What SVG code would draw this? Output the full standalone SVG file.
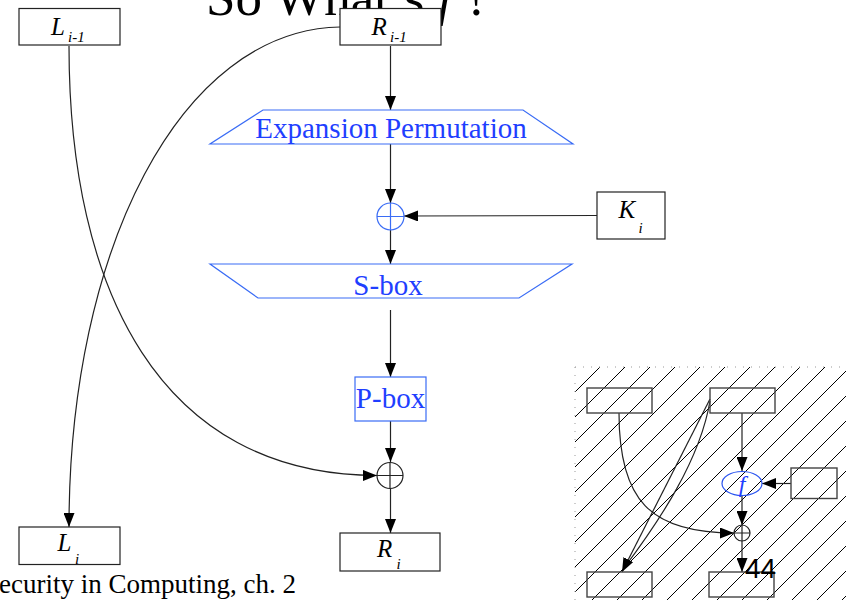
<svg xmlns="http://www.w3.org/2000/svg" width="846" height="600" viewBox="0 0 846 600">
<style>
.box{fill:#fff;stroke:#222;stroke-width:1.2}
.ibox{fill:none;stroke:#444;stroke-width:1.4}
.blue{fill:#fff;stroke:#3a6cf5;stroke-width:1.2}
.con{fill:none;stroke:#222;stroke-width:1.2}
.t{font-family:"Liberation Serif","Times New Roman",serif;fill:#000}
.it{font-family:"Liberation Serif","Times New Roman",serif;font-style:italic;fill:#000}
.bt{font-family:"Liberation Serif","Times New Roman",serif;fill:#1f3fff}
</style>
<defs>
<marker id="ah" markerUnits="userSpaceOnUse" markerWidth="14" markerHeight="11" refX="14" refY="5.5" orient="auto">
<path d="M0,0 L14,5.5 L0,11 z" fill="#000"/>
</marker>
<clipPath id="hc"><rect x="575" y="367" width="271" height="233"/></clipPath>
</defs>

<g id="inset-hatch">
<path clip-path="url(#hc)" fill="none" stroke="#000" stroke-width="1" d="M575,367 L342,600 M600,367 L367,600 M625,367 L392,600 M650,367 L417,600 M675,367 L442,600 M700,367 L467,600 M725,367 L492,600 M750,367 L517,600 M775,367 L542,600 M800,367 L567,600 M825,367 L592,600 M850,367 L617,600 M875,367 L642,600 M900,367 L667,600 M925,367 L692,600 M950,367 L717,600 M975,367 L742,600 M1000,367 L767,600 M1025,367 L792,600 M1050,367 L817,600 M1075,367 L842,600 M1100,367 L867,600"/>
<path fill="none" stroke="#999" stroke-width="1" stroke-dasharray="1,7" d="M575,367 L846,367 M575,367 L575,600"/>
</g>

<g id="title"><text class="t" x="206" y="15" font-size="53">So What’s <tspan font-style="italic">f</tspan> ?</text></g>

<g id="connectors">
<path class="con" d="M390.5,46 L390.5,110" marker-end="url(#ah)"/>
<path class="con" d="M390.5,144 L390.5,203" marker-end="url(#ah)"/>
<path class="con" d="M390.5,230 L390.5,264" marker-end="url(#ah)"/>
<path class="con" d="M390.5,310 L390.5,377" marker-end="url(#ah)"/>
<path class="con" d="M390.5,421 L390.5,462" marker-end="url(#ah)"/>
<path class="con" d="M390.5,489 L390.5,533" marker-end="url(#ah)"/>
<path class="con" d="M597,215.5 L404,216" marker-end="url(#ah)"/>
<path class="con" d="M69,46 C69,290 160,475 377,475.5" marker-end="url(#ah)"/>
<path class="con" d="M340,27 C180,30 69,250 69,527" marker-end="url(#ah)"/>
<path class="con" d="M742,413 L742,471" marker-end="url(#ah)"/>
<path class="con" d="M791,483.5 L762,483.5" marker-end="url(#ah)"/>
<path class="con" d="M742,495.5 L742,525" marker-end="url(#ah)"/>
<path class="con" d="M742,541 L742,572" marker-end="url(#ah)"/>
<path class="con" d="M619,413 C619,500 650,533 734,533" marker-end="url(#ah)"/>
<path class="con" d="M710,401 C700,460 660,520 624,568"/>
<path class="con" d="M710,399 L622,572" marker-end="url(#ah)"/>
</g>

<g id="L_i-1"><rect class="box" x="19" y="8.5" width="101" height="36.5"/><text class="it" x="51" y="34.5" font-size="25">L</text><text class="it" x="68" y="42" font-size="15">i-1</text></g>
<g id="R_i-1"><rect class="box" x="340" y="8.5" width="101" height="36.5"/><text class="it" x="371.5" y="34.5" font-size="25">R</text><text class="it" x="390" y="42" font-size="15">i-1</text></g>
<g id="expansion"><polygon class="blue" points="263,110 523,110 573,144 210,144"/><text class="bt" x="391" y="138" font-size="29" text-anchor="middle">Expansion Permutation</text></g>
<g id="xor1"><circle cx="390.5" cy="216.5" r="13.5" fill="#fff" stroke="#3a6cf5" stroke-width="1.2"/><path d="M377,216.5 H404 M390.5,203 V230" stroke="#3a6cf5" stroke-width="1.2"/></g>
<g id="K_i"><rect class="box" x="597" y="192" width="68" height="47"/><text class="it" x="618.5" y="218" font-size="25">K</text><text class="it" x="638.5" y="233" font-size="15">i</text></g>
<g id="sbox"><polygon class="blue" points="210,264 572,264 519,298 258,298"/><text class="bt" x="388" y="295" font-size="29" text-anchor="middle">S-box</text></g>
<g id="pbox"><rect class="blue" x="355" y="377" width="71" height="44"/><text class="bt" x="390.5" y="408" font-size="29" text-anchor="middle">P-box</text></g>
<g id="xor2"><circle cx="390" cy="475.5" r="13" fill="#fff" stroke="#222" stroke-width="1.2"/><path d="M377,475.5 H403 M390,462.5 V488.5" stroke="#222" stroke-width="1.2"/></g>
<g id="L_i"><rect class="box" x="19" y="527" width="101" height="37.5"/><text class="it" x="57.5" y="551" font-size="25">L</text><text class="it" x="75" y="563.5" font-size="15">i</text></g>
<g id="R_i"><rect class="box" x="340" y="533" width="100" height="38"/><text class="it" x="377" y="557" font-size="25">R</text><text class="it" x="396.5" y="568.5" font-size="15">i</text></g>

<g id="inset-A"><rect class="ibox" x="587" y="388" width="65" height="25"/></g>
<g id="inset-B"><rect class="ibox" x="710" y="388" width="65" height="25"/></g>
<g id="inset-K"><rect class="ibox" x="791" y="468" width="46" height="30.5"/></g>
<g id="inset-f"><ellipse cx="742" cy="483.5" rx="20" ry="12" fill="none" stroke="#2b55f0" stroke-width="1.2"/><text class="bt" x="742" y="492" font-size="24" font-style="italic" text-anchor="middle">f</text></g>
<g id="inset-xor"><circle cx="742" cy="533" r="8" fill="none" stroke="#222" stroke-width="1.2"/><path d="M734,533 H750 M742,525 V541" stroke="#222" stroke-width="1.2"/></g>
<g id="inset-D"><rect class="ibox" x="587" y="572" width="65" height="25"/></g>
<g id="inset-E"><rect class="ibox" x="709" y="572" width="65" height="25"/></g>

<g id="page-number"><text x="745" y="578" font-family="Liberation Sans, Arial, sans-serif" font-size="28" fill="#000">44</text></g>
<g id="footer"><text class="t" x="-1" y="593" font-size="27">ecurity in Computing, ch. 2</text></g>
</svg>
